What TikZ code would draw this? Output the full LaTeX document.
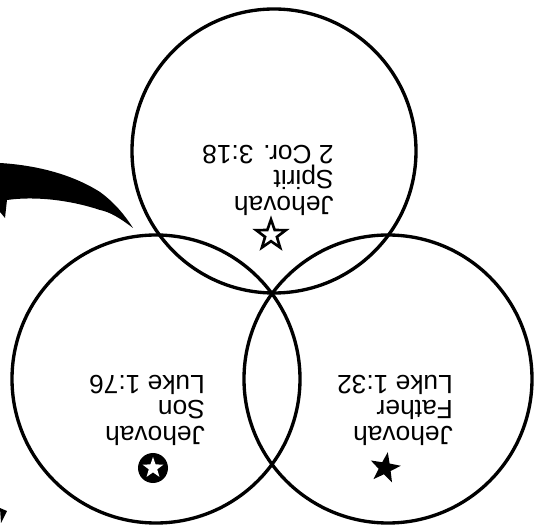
\documentclass[tikz,border=0pt]{standalone}
\usepackage{fontspec}
\newfontfamily\labelfont{Liberation Sans}
\usetikzlibrary{shapes.geometric}

\begin{document}
\begin{tikzpicture}[line width=1.9pt,
  ring/.style={draw=black},
  verse/.style={rotate=180,align=left,inner sep=0pt,font=\labelfont\fontsize{15}{14.5}\selectfont},
  starmark/.style={star,star points=5,star point ratio=2.5,inner sep=0pt}]
  \useasboundingbox (0,0) rectangle (10.82,10.56);
  \coordinate (spirit) at (5.48,7.54);
  \coordinate (son) at (3.12,2.98);
  \coordinate (father) at (7.76,2.98);
  \draw[ring] (spirit) circle (2.84);
  \draw[ring] (son) circle (2.88);
  \draw[ring] (father) circle (2.88);
  % texte (a l'envers)
  \node[verse] (tSpirit) at (5.36,6.96) {Jehovah\\Spirit\\2 Cor. 3:18};
  \node[verse] (tSon) at (2.94,2.36) {Jehovah\\Son\\Luke 1:76};
  \node[verse] (tFather) at (7.90,2.36) {Jehovah\\Father\\Luke 1:32};
  % etoiles
  \node[starmark,draw,line width=1.5pt,minimum size=0.62cm] (sSpirit) at (5.42,5.86) {};
  \fill (3.06,1.20) circle (0.30);
  \node[starmark,fill=white,minimum size=0.44cm] (sSon) at (3.06,1.20) {};
  \node[starmark,fill=black,minimum size=0.64cm,rotate=-10] (sFather) at (7.70,1.20) {};
  % fleche
  \fill (0,7.30) .. controls (0.66,7.26) and (1.40,7.10) .. (2.0,6.72)
    .. controls (2.30,6.50) and (2.50,6.25) .. (2.66,6.0)
    .. controls (2.40,6.20) and (2.20,6.32) .. (2.0,6.36)
    .. controls (1.40,6.56) and (0.70,6.64) .. (0.14,6.56)
    -- (0.10,6.20) -- (0,6.32) -- cycle;
  \fill (0,0.40) -- (0.14,0.34) -- (0.02,0.10) -- cycle;
\end{tikzpicture}
\end{document}
